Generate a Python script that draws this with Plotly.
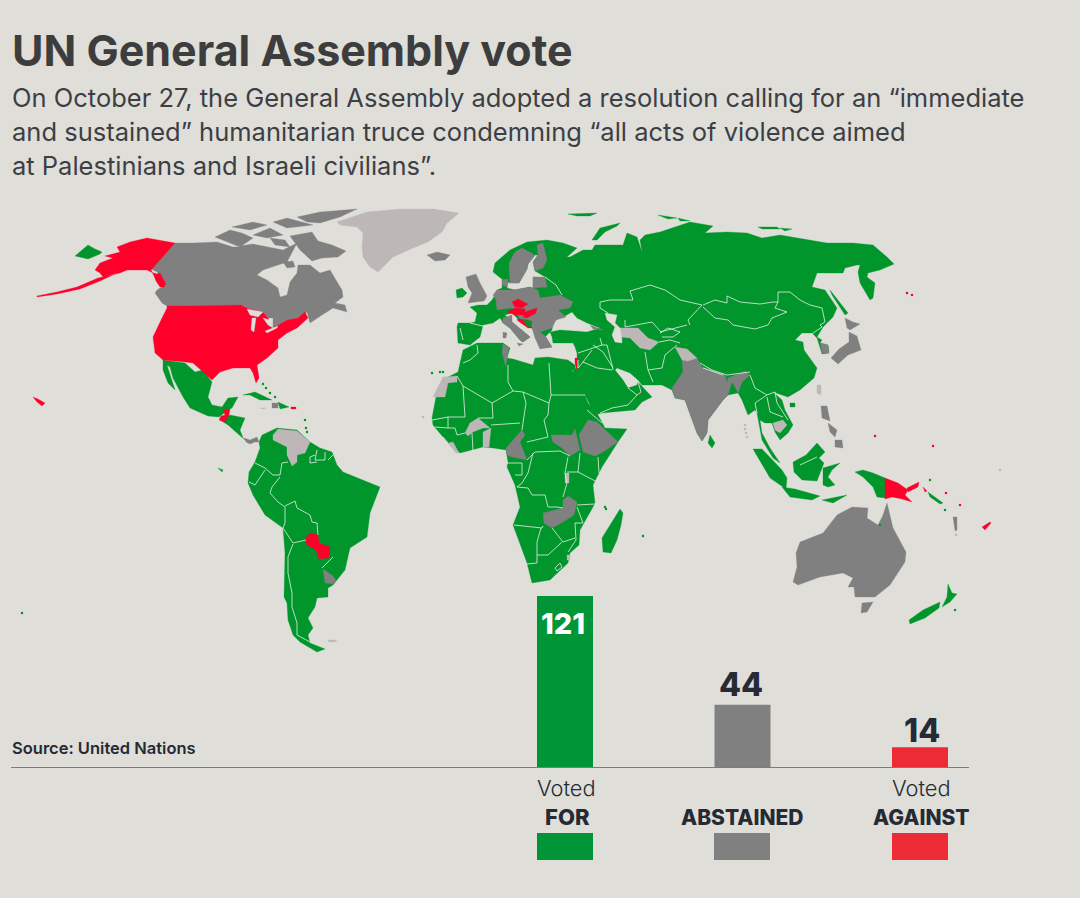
import plotly.graph_objects as go

# the world_110m topojson is not reachable offline, so the map outlines are hand traced
# values below are in map units (1 unit = 1 px of the 1080x898 canvas)

BG = "#dfded9"
GREEN = "#00962c"
GRAY = "#808080"
RED = "#ff002b"
ABSENT = "#bdb7b8"
DARK = "#252a34"
FONT = "Inter"

categories = ["FOR", "ABSTAINED", "AGAINST"]
votes = [121, 44, 14]
bar_colors = ["#009638", "#808080", "#ec2b36"]

# ---- land that voted for (base layer)
eurasia = [(458,343),(457,327),(458,323),(470,323),(475,322),(477,313),(470,307),(478,305),(487,305),(492,300),(495,295),(497,290),(502,288),
    (502,280),(508,279),(507,288),(515,290),(530,287),(533,288),(533,277),(547,278),(535,271),(533,262),(538,255),(535,255),(528,264),(527,269),
    (519,283),(510,283),(503,280),(493,272),(495,263),(510,250),(527,242),(547,240),(563,243),(577,248),(567,257),(560,257),(570,257),(583,250),
    (592,250),(595,245),(623,245),(627,233),(637,237),(642,252),(640,240),(645,235),(660,232),(690,222),(713,226),(705,233),(727,232),(747,233),
    (762,238),(780,235),(807,240),(827,243),(853,243),(873,245),(887,257),(894,264),(880,270),(868,273),(867,277),(875,283),(873,298),(870,300),
    (860,283),(858,272),(860,265),(857,265),(845,268),(843,273),(817,273),(812,287),(825,290),(837,308),(833,317),(823,327),(817,337),(822,340),
    (820,343),(828,345),(829,353),(822,354),(817,338),(812,333),(802,333),(795,340),(803,342),(804,350),(817,368),(814,378),(800,390),(788,397),
    (773,392),(782,400),(785,410),(793,425),(788,433),(780,440),(775,432),(772,423),(765,423),(760,420),(762,433),(770,448),(780,463),(773,458),
    (762,440),(757,413),(755,410),(748,415),(742,400),(738,393),(728,395),(723,400),(708,420),(707,433),(702,441),(697,433),(685,400),(675,398),
    (672,390),(662,385),(642,385),(638,380),(630,373),(617,368),(615,370),(623,380),(628,388),(637,385),(638,382),(652,397),(642,402),(635,410),
    (602,413),(595,415),(585,395),(575,375),(573,371),(577,367),(577,353),(575,347),(573,343),(553,343),(552,337),(550,332),(560,330),(587,332),
    (600,328),(587,323),(577,318),(572,312),(565,316),(560,317),(553,322),(552,330),(545,337),(552,347),(540,348),(535,333),(532,328),(522,323),
    (512,313),(505,315),(512,322),(530,337),(523,342),(520,340),(510,328),(503,323),(500,318),(493,323),(483,325),(480,337),(470,345)]
africa = [(463,350),(477,343),(503,343),(510,348),(507,358),(513,359),(533,365),(535,358),(548,357),(568,360),(575,365),(575,370),(572,370),(580,383),
    (588,403),(598,415),(605,428),(627,429),(618,442),(602,467),(593,485),(595,503),(593,507),(580,530),(579,545),(570,553),(568,563),(550,580),
    (532,583),(527,563),(513,525),(520,507),(515,485),(507,467),(508,462),(506,450),(493,448),(483,447),(460,453),(448,443),(433,425),(432,418),
    (436,397),(448,377),(458,372)]
south_america = [(259,442),(262,435),(277,428),(297,430),(310,442),(320,448),(332,452),(337,465),(343,472),(363,480),(380,487),(370,513),(367,537),
    (350,548),(345,570),(337,580),(333,585),(328,588),(328,597),(317,598),(315,607),(313,610),(308,618),(313,628),(308,635),(310,643),(325,649),
    (317,652),(300,642),(293,635),(288,620),(287,603),(284,597),(285,553),(283,528),(265,515),(253,495),(248,483),(249,472),(255,462),(260,448)]
mexico = [(163,360),(185,363),(195,372),(203,370),(212,382),(208,397),(212,405),(222,407),(228,398),(238,397),(232,408),(228,410),(219,417),(208,416),
    (190,408),(183,397),(173,378),(170,367),(167,365),(175,390),(168,383),(163,370)]
central_america = [(220,420),(230,415),(245,418),(240,430),(243,438),(245,440),(237,433),(228,425)]
chukotka = [(88,245),(75,256),(88,259),(100,254),(102,252),(95,249)]
cuba = [(243,395),(255,392),(272,400),(260,400),(250,395)]
dominican = [(278,402),(289,407),(280,409)]
ireland = [(456,290),(462,288),(467,293),(463,297),(457,298)]
madagascar = [(620,509),(623,513),(621,525),(617,540),(611,553),(603,552),(602,538),(608,528),(614,518)]
sri_lanka = [(710,435),(715,443),(712,448),(708,443)]
sumatra = [(753,449),(762,449),(782,470),(787,478),(786,489),(770,478)]
java = [(782,487),(795,489),(820,496),(812,500),(790,497)]
borneo = [(793,462),(806,455),(817,443),(825,452),(819,458),(824,463),(817,481),(802,480),(794,472)]
sulawesi = [(823,468),(840,463),(832,470),(828,477),(835,485),(828,487),(823,485)]
sunda = [(822,500),(847,495),(833,503)]
west_papua = [(855,472),(863,470),(873,473),(885,478),(885,498),(877,497),(873,487),(863,477)]
solomons = [(928,492),(943,503),(940,504),(930,497)]
new_zealand_n = [(948,584),(952,593),(957,594),(950,602),(942,607),(947,597)]
new_zealand_s = [(923,610),(940,602),(939,608),(925,618),(910,624),(909,620)]
novaya_zemlya = [(592,240),(600,228),(620,223),(617,226),(605,232),(597,240)]
svalbard = [(568,214),(587,213),(597,213),(590,216),(577,216)]
franz_josef = [(658,215),(677,218),(668,219)]
franz_josef_e = [(678,218),(690,221),(680,221)]
severnaya = [(758,227),(777,227),(780,229),(762,229)]
severnaya_e = [(780,228),(792,229),(785,231)]
sakhalin = [(830,290),(848,313),(845,315),(832,295)]
hainan = [(790,403),(795,403),(795,407),(790,407)]
galapagos = [(218,468),(223,470),(222,472)]
bosnia = [(523,320),(532,321),(531,327),(527,326)]
voted_for = [eurasia, africa, south_america, mexico, central_america, chukotka, cuba, dominican, ireland, madagascar, sri_lanka, sumatra, java, borneo,
    sulawesi, sunda, west_papua, solomons, new_zealand_n, new_zealand_s, novaya_zemlya, svalbard, franz_josef, franz_josef_e, severnaya, severnaya_e,
    sakhalin, hainan, galapagos]

# ---- abstained
canada = [(175,243),(193,243),(217,242),(233,247),(253,244),(267,247),(283,250),(297,243),(287,262),(263,270),(257,275),(267,280),(278,288),(280,297),
    (287,295),(290,282),(297,273),(298,265),(310,265),(320,273),(330,270),(342,290),(343,297),(335,303),(345,305),(347,312),(333,308),(322,315),(310,323),
    (307,312),(298,318),(287,320),(273,328),(273,318),(268,318),(263,312),(247,308),(241,305),(167,306),(162,303),(155,293),(157,290),(160,288),(166,285),
    (157,272),(151,269)]
baffin = [(290,236),(312,232),(318,241),(332,245),(346,251),(338,257),(322,258),(312,261),(300,250)]
victoria = [(215,237),(230,230),(242,233),(253,238),(240,247),(227,242)]
banks = [(232,227),(253,222),(267,225),(250,230)]
ellesmere = [(297,217),(320,212),(357,209),(340,217),(320,223),(307,222)]
devon = [(273,222),(287,218),(313,225),(287,228)]
somerset = [(253,235),(270,228),(283,235),(267,238)]
prince_of_wales = [(270,238),(285,240),(290,247),(275,245)]
southampton = [(283,262),(293,261),(295,267),(287,268)]
iceland = [(427,255),(437,252),(450,255),(445,260),(435,261)]
sweden = [(535,255),(528,264),(527,269),(519,283),(510,283),(509,263),(515,252),(522,248)]
finland = [(537,245),(543,243),(547,260),(543,268),(535,271),(533,262),(538,255)]
denmark = [(502,280),(508,279),(507,287),(502,285)]
baltics = [(533,277),(545,277),(547,287),(533,288)]
central_europe = [(493,295),(497,290),(513,290),(530,287),(538,290),(540,298),(560,295),(573,302),(570,308),(558,310),(566,317),(556,320),(552,328),(540,332),
    (546,337),(552,347),(540,349),(535,338),(532,328),(526,326),(512,308),(497,310),(496,300)]
italy = [(503,318),(512,315),(512,322),(530,337),(523,342),(520,340),(510,328),(502,322)]
sardinia = [(503,332),(507,333),(506,338),(503,338)]
sicily = [(517,343),(523,344),(519,346)]
britain = [(466,277),(476,274),(480,283),(487,296),(484,301),(468,303),(472,293),(468,287)]
georgia = [(590,325),(603,330),(593,329)]
tunisia = [(503,344),(509,348),(507,357),(506,367),(502,353)]
cameroon = [(506,448),(518,435),(522,430),(525,435),(520,442),(527,460),(512,457),(507,455)]
south_sudan = [(551,435),(558,435),(572,435),(575,429),(577,437),(580,450),(570,456),(562,448),(553,442)]
ethiopia = [(579,435),(588,420),(597,422),(607,432),(618,442),(603,452),(595,456),(583,452)]
zambia = [(543,513),(563,508),(563,500),(568,496),(577,502),(574,515),(563,522),(552,528),(544,523)]
india = [(682,360),(697,358),(702,367),(725,375),(727,383),(728,378),(745,371),(750,375),(742,382),(738,393),(735,387),(732,382),(728,395),(723,400),(708,420),
    (707,433),(702,441),(697,433),(685,400),(675,398),(672,388),(683,372)]
south_korea = [(820,343),(828,345),(829,353),(822,353)]
hokkaido = [(845,318),(853,322),(860,324),(850,330),(847,328)]
honshu = [(849,332),(857,336),(861,350),(848,355),(838,364),(831,358),(839,349),(849,342)]
luzon = [(821,406),(827,406),(830,421),(822,418)]
visayas = [(828,423),(837,430),(835,437),(830,432)]
mindanao = [(835,440),(842,440),(843,448),(835,447)]
australia = [(887,503),(893,528),(906,552),(905,562),(890,585),(875,597),(855,597),(854,587),(848,587),(853,578),(843,573),(820,577),(798,585),(793,582),(797,567),
    (796,553),(800,542),(823,533),(837,515),(852,507),(868,508),(867,518),(878,525),(883,515)]
tasmania = [(862,603),(873,602),(867,612),(861,613)]
vanuatu = [(953,517),(957,517),(957,530),(955,531)]
panama = [(244,438),(250,440),(257,437),(259,442),(255,442),(250,444),(246,442)]
haiti = [(272,403),(278,403),(278,408),(272,408)]
uruguay = [(323,569),(332,575),(336,580),(334,584),(325,583)]
abstained = [canada, baffin, victoria, banks, ellesmere, devon, somerset, prince_of_wales, southampton, iceland, sweden, finland, denmark, baltics, central_europe, italy,
    sardinia, sicily, britain, georgia, tunisia, cameroon, south_sudan, ethiopia, zambia, india, south_korea, hokkaido, honshu, luzon, visayas, mindanao, australia, tasmania,
    vanuatu, panama, haiti, uruguay]

# ---- voted against
alaska = [(175,243),(147,238),(130,242),(117,247),(120,252),(105,256),(113,258),(100,263),(95,270),(100,273),(103,277),(117,273),(100,281),(80,289),(57,294),(37,297),
    (37,296),(57,292),(77,287),(98,278),(120,273),(127,270),(147,270),(151,272),(157,274),(160,273),(166,284),(164,287),(160,287),(156,281),(154,276),(151,270)]
usa = [(167,306),(241,305),(247,308),(263,312),(268,318),(273,328),(287,320),(298,318),(305,312),(308,318),(297,328),
    (287,333),(278,340),(278,348),(267,358),(257,365),(259,378),(256,383),(253,373),(250,368),(233,368),(220,372),(212,380),(203,372),(193,363),(185,362),(163,360),
    (155,353),(153,337),(162,318),(167,308)]
hawaii = [(33,397),(38,399),(45,403),(42,406),(37,402)]
guatemala = [(223,410),(230,409),(229,415),(225,422),(219,420),(221,416),(225,415)]
puerto_rico = [(291,407),(296,407),(296,409),(291,409)]
paraguay = [(310,533),(318,535),(319,543),(330,547),(329,558),(319,559),(316,550),(307,545),(305,539)]
czechia = [(512,302),(518,299),(528,304),(522,308),(515,307)]
austria = [(507,312),(515,308),(525,309),(525,315),(515,315)]
hungary = [(525,312),(537,308),(536,313),(527,318),(523,317)]
croatia = [(517,319),(528,320),(532,328),(528,328),(518,321)]
israel = [(575,358),(577,358),(577,368),(576,369),(575,363)]
papua_new_guinea = [(885,478),(898,483),(908,490),(905,495),(912,502),(902,499),(892,497),(885,499)]
new_britain = [(907,488),(919,482),(918,487),(908,492)]
bougainville = [(923,487),(927,491),(925,492)]
fiji = [(982,527),(990,522),(991,523),(985,530)]
voted_against = [alaska, usa, hawaii, guatemala, puerto_rico, paraguay, czechia, austria, hungary, croatia, israel, papua_new_guinea, new_britain, bougainville, fiji]

# ---- did not vote / no data
greenland = [(337,222),(367,212),(400,209),(433,209),(459,213),(447,223),(442,232),(428,242),(413,248),(393,257),(383,267),(378,272),(370,267),(363,257),(362,247),
    (363,233),(357,227),(340,225)]
venezuela = [(273,435),(278,429),(297,431),(310,442),(305,453),(297,455),(297,462),(292,466),(287,455),(287,447),(273,440)]
jamaica = [(260,408),(266,408),(263,409)]
falklands = [(328,640),(337,640),(335,642),(329,642)]
western_sahara = [(433,397),(443,377),(457,376),(457,382),(448,383),(445,397)]
burkina = [(465,433),(470,423),(478,418),(490,428),(483,428),(473,432),(468,436)]
togo_benin = [(483,432),(491,428),(489,447),(483,447)]
liberia = [(448,443),(453,442),(459,453),(456,453)]
burundi = [(565,473),(569,473),(569,483),(565,483)]
eswatini = [(567,555),(570,555),(570,560),(567,560)]
turkmenistan = [(620,328),(627,328),(638,328),(648,338),(659,342),(650,350),(640,348),(630,338),(620,337)]
kashmir = [(675,347),(687,349),(697,358),(688,361),(682,360),(678,352)]
cambodia = [(773,423),(783,420),(787,425),(780,433),(775,430)]
taiwan = [(817,385),(821,385),(821,395),(817,393)]
did_not_vote = [greenland, venezuela, jamaica, falklands, western_sahara, burkina, togo_benin, liberia, burundi, eswatini, turkmenistan, kashmir, cambodia, taiwan]

# ---- inland water
caspian = [(605,313),(617,315),(615,323),(620,328),(622,340),(622,343),(615,342),(612,335),(615,327),(607,320)]
superior = [(247,309),(263,312),(258,317),(250,315)]
michigan = [(252,318),(256,318),(254,332),(251,330)]
huron = [(263,318),(270,320),(273,328),(268,325)]
erie = [(265,331),(278,326),(277,328),(267,333)]
inland_water = [caspian, superior, michigan, huron, erie]

# ---- small islands
islets_for_x = [263,266,270,275,305,306,307,432,440,443,643,605,606,22,930,945,955,880]
islets_for_y = [384,388,393,397,420,428,432,373,372,372,536,507,509,613,480,510,610,525]
islets_against_x = [875,933,907,912,946,960]
islets_against_y = [436,446,293,295,493,505]
islets_absent_x = [745,745,746,747,423,956,1000]
islets_absent_y = [425,429,433,437,417,535,470]

# ---- borders between countries
borders = [
    [(463,363),(470,360),(478,353),(477,345)], [(457,376),(463,386),(492,403),(513,391),(523,392)], [(508,365),(508,382),(513,391)], [(549,363),(551,395)],
    [(551,395),(585,395)], [(523,392),(549,403),(551,395)], [(549,403),(548,415),(544,420),(548,437)], [(523,392),(526,403),(523,423),(522,430)],
    [(492,403),(493,418),(478,418)], [(463,386),(465,417),(448,417)], [(432,420),(448,417),(448,428),(435,427)], [(448,428),(455,428),(457,435),(465,433)],
    [(491,425),(520,423)], [(472,433),(473,451)], [(443,437),(448,443)], [(527,442),(543,438),(548,437)], [(527,460),(535,452),(560,451),(570,456)],
    [(507,463),(522,463),(522,475),(515,475)], [(533,453),(528,473),(522,483),(517,487)], [(517,487),(528,488),(532,495),(545,495),(548,507),(557,507),(563,508)],
    [(568,457),(565,473),(567,483),(563,497)], [(580,453),(578,472),(597,482)], [(567,472),(578,472)], [(598,457),(599,473)], [(577,505),(595,504)],
    [(577,507),(583,523),(575,523)], [(575,523),(576,540),(568,552)], [(514,525),(542,528),(543,526)], [(541,528),(537,542),(537,563),(527,564)],
    [(537,555),(548,555),(562,542)], [(552,528),(563,542),(575,538)], [(555,568),(560,563),(562,567),(557,571),(555,568)], [(587,410),(602,423)],
    # south america
    [(255,463),(265,468),(273,475),(280,475),(282,463),(288,462)], [(265,470),(255,485),(249,482)], [(280,477),(272,487),(270,493),(278,502),(285,507),(285,523),(283,528)],
    [(285,506),(295,501),(297,508),(310,515),(312,522),(317,523),(318,535)], [(283,528),(293,543),(306,540)], [(293,544),(288,557),(288,573),(292,593),(292,607),(297,623),(297,635),(310,642)],
    [(333,557),(322,568)], [(315,455),(310,457),(310,463),(317,462)], [(317,450),(315,460),(325,460),(325,452)], [(333,455),(328,460)],
    # europe and central asia
    [(460,328),(463,340)], [(470,323),(487,327)], [(545,277),(556,285),(562,295)], [(608,313),(600,308),(600,302),(610,300),(633,300),(630,291),(650,285),(665,290),(680,300),(702,305)],
    [(702,305),(695,312),(688,320),(690,325)], [(625,320),(625,327),(652,322),(662,333)], [(660,332),(687,325)], [(660,333),(668,328),(680,332),(673,337),(662,337)],
    [(659,342),(670,340),(680,343)], [(677,345),(665,355),(662,368),(648,370)], [(645,352),(648,370),(653,382)], [(593,345),(603,352),(613,368)],
    [(578,353),(602,345),(600,338)], [(602,345),(607,345),(612,365),(613,370)], [(583,362),(597,368),(612,370)], [(592,350),(583,362)], [(578,360),(578,368),(583,362)],
    [(600,413),(612,408),(628,405),(637,395)], [(628,388),(637,395)], [(638,382),(641,392),(637,395)],
    # east asia
    [(703,307),(715,318),(728,320),(733,325),(755,329),(768,325),(772,318),(787,312),(775,308),(778,302)], [(703,305),(715,300),(727,303),(727,296),(740,302),(760,304),(773,302),(778,302)],
    [(778,302),(778,292),(790,292),(800,300),(810,305),(822,308),(825,322),(820,325),(822,327),(813,333),(810,337)], [(700,363),(712,370),(727,375),(750,372)],
    [(750,375),(755,388),(767,395),(775,392)], [(755,403),(757,413)], [(755,403),(767,395)], [(767,397),(770,412),(783,417)], [(775,392),(777,403),(788,420)],
    [(703,368),(723,375)], [(817,457),(800,465)],
]

def flat(shapes):
    xs, ys = [], []
    for s in shapes:
        xs += [p[0] for p in s] + [s[0][0], None]
        ys += [p[1] for p in s] + [s[0][1], None]
    return xs, ys

def land(shapes, color):
    xs, ys = flat(shapes)
    return go.Scatter(x=xs, y=ys, mode="lines", fill="toself", fillcolor=color, hoverinfo="skip",
                      line=dict(color=color, width=0.3), showlegend=False)

def islets(xs, ys, color):
    return go.Scatter(x=xs, y=ys, mode="markers", marker=dict(color=color, size=2.5), hoverinfo="skip", showlegend=False)

fig = go.Figure()
fig.add_trace(land(voted_for, GREEN))
fig.add_trace(land(abstained, GRAY))
fig.add_trace(land(did_not_vote, ABSENT))
fig.add_trace(land(voted_against, RED))
fig.add_trace(land([bosnia], GREEN))
fig.add_trace(land(inland_water, BG))
bx, by = [], []
for b in borders:
    bx += [p[0] for p in b] + [None]
    by += [p[1] for p in b] + [None]
fig.add_trace(go.Scatter(x=bx, y=by, mode="lines", line=dict(color="#e8eee8", width=0.8), hoverinfo="skip", showlegend=False))
fig.add_trace(islets(islets_for_x, islets_for_y, GREEN))
fig.add_trace(islets(islets_against_x, islets_against_y, RED))
fig.add_trace(islets(islets_absent_x, islets_absent_y, ABSENT))

fig.add_trace(go.Bar(x=categories, y=votes, marker=dict(color=bar_colors, line_width=0), xaxis="x2", yaxis="y2",
                     width=56 / 177.5, hoverinfo="skip", showlegend=False))

def note(x, y, text, size, color=DARK, weight=400, anchor="center"):
    fig.add_annotation(x=x, y=y, text=text, showarrow=False, xanchor=anchor, yanchor="middle",
                       font=dict(family=FONT, size=size, color=color, weight=weight))

note(10, 50, "UN General Assembly vote", 43, "#3d3d3d", 700, "left")
note(10, 97, "On October 27, the General Assembly adopted a resolution calling for an “immediate", 25.5, "#3d3f44", 400, "left")
note(10, 131, "and sustained” humanitarian truce condemning “all acts of violence aimed", 25.5, "#3d3f44", 400, "left")
note(10, 165, "at Palestinians and Israeli civilians”.", 25.5, "#3d3f44", 400, "left")
note(10, 748, "Source: United Nations", 16.5, DARK, 600, "left")

note(563, 623, str(votes[0]), 29, "white", 800)
note(741, 684, str(votes[1]), 32, DARK, 800)
note(921.5, 730, str(votes[2]), 32, DARK, 800)

note(566, 788, "Voted", 21.8, DARK, 300)
note(921, 788, "Voted", 21.8, DARK, 300)
note(567, 817, categories[0], 22, DARK, 800)
note(742, 817, categories[1], 21, DARK, 800)
note(921, 817, categories[2], 21, DARK, 800)

for cx, col in zip([565, 742, 920], bar_colors):
    fig.add_shape(type="rect", x0=cx - 28, x1=cx + 28, y0=833, y1=860, fillcolor=col, line_width=0)
fig.add_shape(type="line", x0=11, x1=969, y0=767.5, y1=767.5, line=dict(color="#7d7c78", width=1))

fig.update_layout(width=1080, height=898, paper_bgcolor=BG, plot_bgcolor="rgba(0,0,0,0)", margin=dict(l=0, r=0, t=0, b=0), showlegend=False,
                  xaxis=dict(range=[0, 1080], domain=[0, 1], visible=False, fixedrange=True),
                  yaxis=dict(range=[898, 0], domain=[0, 1], visible=False, fixedrange=True),
                  xaxis2=dict(domain=[476.25 / 1080, 1008.75 / 1080], anchor="y2", visible=False, categoryorder="array", categoryarray=categories),
                  yaxis2=dict(domain=[131 / 898, 308 / 898], anchor="x2", range=[0, 177 / 1.413], visible=False))
fig.write_html("out.html", config=dict(displayModeBar=False), post_script="document.body.style.margin='0';")
